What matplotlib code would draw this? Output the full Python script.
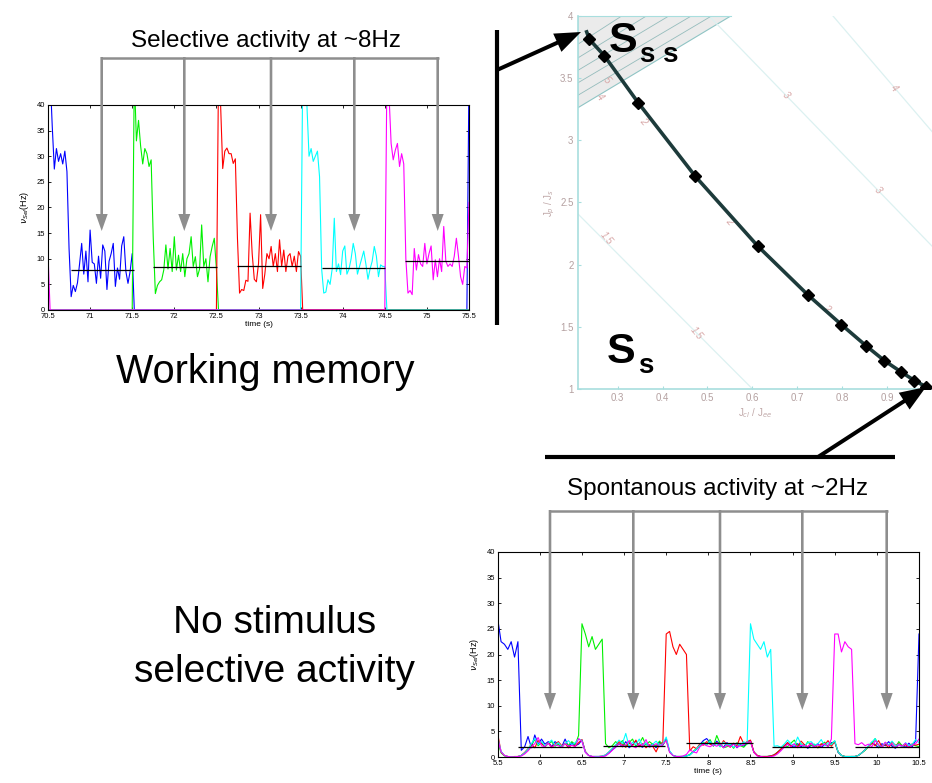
import numpy as np
import matplotlib.pyplot as plt
from matplotlib.patches import FancyArrow, Polygon

plt.rcParams['font.family'] = ['Liberation Sans', 'DejaVu Sans']

# ---------------- working memory traces (top left), one sample every 25 ms
wm_start = 70.5
wm_step = 0.025
wm_n = 201
wm_colors = ["#0000ff", "#00f000", "#ff0000", "#00ffff", "#ff00ff"]
wm_seg_start = [70.5, 71.5, 72.5, 73.5, 74.5]
wm_blue = [46, 46, 36, 27.5, 31.5, 29, 30.5, 28.5, 31, 27, 12, 2.6, 4.8, 3.6, 5.3, 9, 13, 7, 11.5, 5.5,
           15.6, 9.3, 9, 5.2, 10.5, 6.2, 12.7, 11.5, 4, 9.5, 11, 13, 4.6, 8.2, 6, 12.5, 14.3, 7.5, 5.2, 7.5, 11]
wm_green = [0, 46, 33, 37, 32, 28.5, 31.5, 30.5, 28, 29.3, 14, 3.2, 4.8, 5.5, 5.9, 7.8, 12.7, 8, 12, 7.5,
            14.3, 7.8, 10.7, 7.5, 11, 6.5, 10, 11, 14.3, 8.5, 10.4, 6.5, 8, 16.6, 8.5, 10, 5.5, 10.4, 12.4, 14, 8]
wm_red = [0, 46, 40, 27.6, 31, 31.6, 30.5, 30.5, 28.6, 29.5, 14, 3.3, 4, 3.8, 5.8, 5.6, 18.9, 11, 6, 5.5,
          9, 18.6, 4.2, 7, 11, 10, 12.4, 8.5, 11, 7.5, 13.7, 8.5, 11.7, 7.5, 10.5, 11, 8.5, 10.5, 7.5, 11.4, 10.5]
wm_cyan = [0, 46, 46, 40, 30, 31.5, 29, 30, 31, 26, 8, 3.3, 3.5, 5.9, 5, 8, 17.9, 7.5, 9, 6.9,
           11.5, 12.5, 7, 8, 10, 13, 11, 7, 8.5, 10, 11.5, 9, 6, 8, 9.5, 12.4, 10.5, 6.5, 8.8, 8.5, 8.5]
wm_magenta = [0, 46, 42, 32.5, 29.3, 31.2, 32.5, 28, 30.5, 28.5, 10, 3.3, 3.8, 3, 12, 7.8, 10.8, 9, 8.5, 13,
              9, 11, 12.5, 5.9, 9.8, 6.5, 10, 7.5, 16.3, 9.5, 8.5, 9, 8.5, 10.5, 14, 10.5, 6.5, 5, 8.5, 8.2, 21]
wm_magenta_first = 11.0   # magenta still decaying at 70.5 s
wm_blue_last = 46.0       # blue cue comes back at 75.5 s
wm_mean_from = [70.77, 71.75, 72.74, 73.75, 74.74]
wm_mean_to = [71.52, 72.51, 73.5, 74.5, 75.5]
wm_mean_val = [7.8, 8.3, 8.6, 8.2, 9.6]
wm_xticks = [70.5, 71, 71.5, 72, 72.5, 73, 73.5, 74, 74.5, 75, 75.5]
wm_xlabels = ["70.5", "71", "71.5", "72", "72.5", "73", "73.5", "74", "74.5", "75", "75.5"]

# ---------------- no stimulus traces (bottom right), one sample every 40 ms
ns_start = 5.5
ns_step = 0.04
ns_blue = [27, 22.5, 22, 21, 22.5, 19.5, 22.5, 1.3, 2, 4, 1.8, 4.3, 2.5, 3.5, 2.5, 3, 2, 3, 2.5, 2, 3.5, 2, 2.8, 2.2, 2.5,
           3.3, 1.0, 0.3, 0.1, 0.1, 0.1, 0.1, 0.3, 0.8, 1.4, 1.9, 2.6, 2.0, 3.0, 1.8, 2.4, 3.1, 2.2, 1.9, 2.7, 2.1, 2.5, 1.8, 2.9, 2.3,
           3.6, 1.1, 0.3, 0.1, 0.1, 0.1, 0.2, 0.4, 1.0, 1.5, 2.4, 3.2, 3.6, 2.8, 2.2, 3.1, 2.4, 1.9, 2.8, 2.3, 2.6, 1.8, 2.5, 2.1, 2.7,
           3.2, 1.0, 0.3, 0.1, 0.1, 0.1, 0.2, 0.4, 0.9, 1.5, 2.0, 2.8, 2.2, 1.9, 2.6, 2.0, 2.4, 1.7, 2.3, 2.0, 2.6, 1.9, 2.4, 2.2, 2.8,
           2.9, 0.9, 0.3, 0.1, 0.0, 0.1, 0.1, 0.3, 0.8, 1.4, 2.1, 2.9, 2.4, 1.8, 2.6, 2.2, 3.0, 2.1, 1.7, 2.5, 2.2, 1.9, 2.7, 2.0, 3.2,
           24]
ns_green = [3.0, 0.8, 0.2, 0.1, 0.0, 0.0, 0.1, 0.3, 0.8, 1.5, 2.4, 3.4, 2.2, 2.8, 2.0, 2.6, 3.0, 2.1, 2.5, 1.9, 2.7, 2.3, 3.0, 2.4, 4.2,
            26, 24, 21.5, 23.5, 21, 22, 23, 2.6, 1.8, 2.2, 3.0, 2.4, 3.2, 2.0, 2.8, 3.5, 2.1, 2.6, 3.8, 2.3, 3.0, 2.5, 2.2, 3.1, 2.4,
            3.3, 1.0, 0.3, 0.1, 0.1, 0.1, 0.2, 0.5, 1.1, 1.7, 2.2, 2.9, 2.3, 3.4, 2.1, 4.2, 2.6, 1.8, 2.0, 2.5, 1.7, 2.8, 2.2, 1.9, 2.6,
            3.0, 0.9, 0.3, 0.1, 0.1, 0.1, 0.2, 0.4, 0.9, 1.5, 2.3, 2.0, 2.7, 3.3, 2.1, 2.6, 1.9, 3.0, 2.2, 2.5, 1.8, 2.4, 2.9, 2.1, 2.6,
            3.1, 1.0, 0.3, 0.1, 0.1, 0.1, 0.1, 0.3, 0.8, 1.3, 2.0, 2.6, 3.6, 2.2, 1.9, 2.8, 2.3, 2.5, 1.8, 3.0, 2.2, 2.6, 1.9, 2.4, 2.2,
            2.0]
ns_red = [4.5, 1.0, 0.3, 0.1, 0.0, 0.1, 0.1, 0.3, 0.9, 1.6, 2.5, 1.8, 3.2, 2.6, 2.1, 2.8, 1.9, 2.5, 3.0, 2.2, 2.6, 1.8, 2.4, 2.1, 2.8,
          3.4, 1.1, 0.3, 0.1, 0.1, 0.1, 0.2, 0.4, 1.0, 1.6, 2.3, 3.0, 2.4, 1.9, 2.7, 2.2, 3.3, 2.0, 2.6, 1.8, 2.4, 2.1, 1.0, 2.5, 2.8,
          24, 24.5, 21.5, 20, 22, 21, 20, 1.2, 2.0, 1.6, 2.6, 2.3, 3.0, 2.5, 2.2, 2.8, 2.0, 3.2, 2.4, 1.9, 2.7, 2.2, 4.0, 2.6, 3.0,
          3.3, 1.0, 0.3, 0.1, 0.1, 0.1, 0.2, 0.4, 0.9, 1.5, 2.2, 2.8, 2.1, 2.5, 1.9, 3.1, 2.4, 2.0, 2.7, 2.2, 1.8, 2.6, 2.3, 3.2, 2.1,
          3.0, 1.0, 0.3, 0.1, 0.1, 0.1, 0.1, 0.3, 0.8, 1.4, 2.1, 2.7, 2.2, 3.2, 2.0, 2.5, 1.8, 2.9, 2.3, 2.6, 2.0, 2.4, 1.9, 2.6, 2.3,
          2.5]
ns_cyan = [3.8, 1.1, 0.3, 0.1, 0.0, 0.0, 0.1, 0.3, 0.8, 1.5, 2.6, 3.6, 2.4, 3.0, 2.2, 2.7, 3.3, 2.3, 2.8, 2.0, 2.6, 3.2, 2.4, 2.8, 3.5,
           3.2, 1.0, 0.3, 0.1, 0.1, 0.1, 0.2, 0.4, 1.0, 1.7, 2.4, 3.3, 2.6, 4.6, 2.0, 2.9, 2.4, 3.5, 2.2, 2.7, 1.9, 2.5, 3.1, 2.3, 2.6,
           3.9, 1.2, 0.3, 0.1, 0.1, 0.1, 0.2, 0.4, 1.0, 1.6, 2.3, 2.8, 2.4, 3.1, 2.2, 2.6, 2.0, 2.9, 2.3, 2.5, 1.9, 2.7, 2.2, 3.0, 2.5,
           26, 23, 22, 21, 22.5, 19.5, 21, 2.1, 2.2, 1.9, 2.5, 3.3, 2.6, 2.2, 3.9, 2.5, 2.1, 2.8, 3.0, 2.3, 2.6, 3.4, 2.2, 2.8, 2.4,
           3.2, 1.0, 0.3, 0.1, 0.1, 0.1, 0.1, 0.3, 0.8, 1.4, 2.2, 2.9, 3.6, 2.3, 2.0, 2.7, 2.4, 3.1, 2.2, 2.5, 1.9, 2.8, 2.2, 2.5, 3.4,
           2.8]
ns_magenta = [3.6, 1.0, 0.3, 0.1, 0.0, 0.0, 0.1, 0.2, 0.6, 1.2, 2.0, 2.6, 3.8, 2.2, 2.0, 2.7, 1.8, 2.4, 2.2, 1.9, 2.6, 2.1, 2.3, 2.0, 3.6,
              3.0, 0.9, 0.3, 0.1, 0.0, 0.0, 0.1, 0.2, 0.7, 1.3, 2.0, 2.6, 2.0, 2.4, 3.2, 2.1, 1.8, 2.6, 2.2, 3.4, 1.9, 2.2, 2.6, 2.0, 2.5,
              3.2, 0.9, 0.3, 0.1, 0.1, 0.2, 0.5, 1.4, 1.0, 0.8, 2.0, 2.5, 2.2, 2.0, 2.4, 2.1, 2.6, 1.8, 2.3, 2.0, 2.5, 1.9, 2.2, 2.4, 2.8,
              3.0, 0.9, 0.2, 0.1, 0.0, 0.0, 0.1, 0.2, 0.6, 1.2, 1.9, 2.5, 2.0, 2.6, 1.8, 2.3, 2.2, 2.0, 2.7, 1.9, 2.4, 2.1, 2.6, 2.0, 3.5,
              24, 24, 20.5, 22.5, 21.5, 21, 2.6, 2.4, 2.8, 2.2, 2.5, 2.0, 3.2, 2.4, 1.9, 2.9, 2.2, 2.6, 1.8, 2.4, 2.1, 2.7, 1.8, 2.3, 2.6,
              3.5]
ns_mean_from = [5.745, 6.745, 7.74, 8.75, 9.74]
ns_mean_to = [6.5, 7.49, 8.53, 9.48, 10.5]
ns_mean_val = [1.9, 2.1, 2.7, 1.9, 1.9]
ns_xticks = [5.5, 6, 6.5, 7, 7.5, 8, 8.5, 9, 9.5, 10, 10.5]
ns_xlabels = ["5.5", "6", "6.5", "7", "7.5", "8", "8.5", "9", "9.5", "10", "10.5"]

# ---------------- phase diagram (right)
pd_curve_x = [0.231, 0.237, 0.270, 0.346, 0.473, 0.612, 0.723, 0.798, 0.853, 0.894, 0.931, 0.961, 0.987, 1.0]
pd_curve_y = [3.87, 3.81, 3.68, 3.30, 2.71, 2.15, 1.76, 1.52, 1.35, 1.23, 1.14, 1.07, 1.02, 1.0]
pd_region_x = [0.211, 0.553, 0.211]
pd_region_y = [4.0, 4.0, 3.26]
pd_hatch_left_y = [3.36, 3.46, 3.56, 3.66, 3.77]
pd_hatch_top_x = [0.51, 0.465, 0.415, 0.365, 0.31]
pd_contour_x = [[0.211, 0.601], [0.503, 1.0], [0.779, 1.0]]
pd_contour_y = [[2.41, 1.0], [4.0, 2.15], [4.0, 3.07]]
pd_label_x = [0.275, 0.475, 0.357, 0.549, 0.764, 0.675, 0.879, 0.916, 0.275, 0.261]
pd_label_y = [2.21, 1.45, 3.15, 2.35, 1.65, 3.36, 2.60, 3.42, 3.48, 3.35]
pd_label_txt = ["1.5", "1.5", "2", "2", "2", "3", "3", "4", "5", "4"]


def build_wm():
    series = []
    for k, seg in enumerate([wm_blue, wm_green, wm_red, wm_cyan, wm_magenta]):
        vals = np.zeros(wm_n)
        i0 = int(round((wm_seg_start[k] - wm_start) / wm_step))
        vals[i0:i0 + len(seg)] = seg
        series.append(vals)
    series[4][0] = wm_magenta_first
    series[0][-1] = wm_blue_last
    return series


def style_trace_axes(ax, xlim, xticks, xlabels):
    ax.set_xlim(*xlim)
    ax.set_ylim(0, 40)
    ax.set_xticks(xticks)
    ax.set_xticklabels(xlabels)
    ax.set_yticks(range(0, 41, 5))
    ax.tick_params(direction='in', top=True, right=True, length=2.5, width=0.6,
                   labelsize=5.5, pad=2)
    for s in ax.spines.values():
        s.set_linewidth(0.8)
    ax.set_xlabel("time (s)", fontsize=6, labelpad=1)
    ax.set_ylabel(r"$\nu_{Sel}$(Hz)", fontsize=6.5, labelpad=4)


W, H = 932, 783
fig = plt.figure(figsize=(W / 100, H / 100), dpi=100)


def px_axes(x0, y0, x1, y1):
    return fig.add_axes([x0 / W, 1 - y1 / H, (x1 - x0) / W, (y1 - y0) / H])


# top left: working memory
ax1 = px_axes(48, 105, 469, 310)
wm_time = wm_start + wm_step * np.arange(wm_n)
for vals, c in zip(build_wm(), wm_colors):
    ax1.plot(wm_time, vals, color=c, lw=0.8)
ax1.hlines(wm_mean_val, wm_mean_from, wm_mean_to, colors='black', lw=0.9, zorder=5)
style_trace_axes(ax1, (70.5, 75.5), wm_xticks, wm_xlabels)

# bottom right: no stimulus
ax2 = px_axes(497.7, 552, 919, 757)
ns_time = ns_start + ns_step * np.arange(len(ns_blue))
for vals, c in zip([ns_blue, ns_green, ns_red, ns_cyan, ns_magenta], wm_colors):
    ax2.plot(ns_time, vals, color=c, lw=0.8)
ax2.hlines(ns_mean_val, ns_mean_from, ns_mean_to, colors='black', lw=0.9, zorder=5)
style_trace_axes(ax2, (5.5, 10.5), ns_xticks, ns_xlabels)

# right: phase diagram
ax3 = px_axes(577.7, 15.7, 932, 389.3)
ax3.set_xlim(0.211, 1.0)
ax3.set_ylim(1, 4)
faint = '#a8dede'
for cx, cy in zip(pd_contour_x, pd_contour_y):
    ax3.plot(cx, cy, color='#dcf1f1', lw=0.9)
ax3.add_patch(Polygon(list(zip(pd_region_x, pd_region_y)), closed=True,
                      facecolor='#ebebeb', edgecolor='#8fc4c4', lw=0.8))
for yl, xt in zip(pd_hatch_left_y, pd_hatch_top_x):
    ax3.plot([0.211, xt], [yl, 4.0], color='#95bcbc', lw=0.6)
for lx, ly, lt in zip(pd_label_x, pd_label_y, pd_label_txt):
    ax3.text(lx, ly, lt, fontsize=7, color='#d8a8a8', style='italic',
             rotation=-50, ha='center', va='center')
ax3.plot(pd_curve_x, pd_curve_y, color='#1d3b3b', lw=2.6, zorder=4)
ax3.plot(pd_curve_x[1:-1], pd_curve_y[1:-1], 'D', color='black', ms=6.5, zorder=5)
ax3.set_xticks([0.3, 0.4, 0.5, 0.6, 0.7, 0.8, 0.9])
ax3.set_yticks([1, 1.5, 2, 2.5, 3, 3.5, 4])
ax3.set_yticklabels(["1", "1.5", "2", "2.5", "3", "3.5", "4"])
ax3.tick_params(direction='in', length=2, color=faint, labelsize=7,
                labelcolor='#b4a0a0', pad=3)
ax3.spines['right'].set_visible(False)
for side in ['left', 'bottom']:
    ax3.spines[side].set_color(faint)
    ax3.spines[side].set_linewidth(1.2)
ax3.spines['top'].set_bounds(0.211, 0.553)
ax3.spines['top'].set_color(faint)
ax3.set_xlabel(r"J$_{cl}$ / J$_{ee}$", fontsize=7, color='#c0a8a8', labelpad=2)
ax3.set_ylabel(r"J$_{p}$ / J$_{s}$", fontsize=7, color='#c0a8a8', labelpad=2)

# overlay in pixel units for the annotations
ov = fig.add_axes([0, 0, 1, 1])
ov.set_xlim(0, W)
ov.set_ylim(H, 0)
ov.axis('off')

gray = '#8e8e8e'
ov.plot([100.5, 438.5], [58, 58], color=gray, lw=1.8, solid_capstyle='butt')
for x in [101.7, 184.3, 271, 354.3, 437.7]:
    ov.add_patch(FancyArrow(x, 57, 0, 174, width=2.6, head_width=12, head_length=17,
                            length_includes_head=True, color=gray, lw=0))
ov.plot([549, 887.7], [511, 511], color=gray, lw=1.8, solid_capstyle='butt')
for x in [550, 633.3, 720, 802.3, 886.7]:
    ov.add_patch(FancyArrow(x, 510, 0, 200, width=2.6, head_width=12, head_length=17,
                            length_includes_head=True, color=gray, lw=0))

ov.plot([497, 497], [30, 325], color='black', lw=3, solid_capstyle='butt')
ov.add_patch(FancyArrow(497, 70, 84, -38, width=4, head_width=20, head_length=26,
                        length_includes_head=True, color='black', lw=0))
ov.plot([545, 895], [457, 457], color='black', lw=3, solid_capstyle='butt')
ov.add_patch(FancyArrow(818, 457, 108, -70, width=4, head_width=20, head_length=26,
                        length_includes_head=True, color='black', lw=0))

ov.text(266, 47, "Selective activity at ~8Hz", fontsize=17.5, ha='center', va='baseline')
ov.text(718, 495, "Spontanous activity at ~2Hz", fontsize=17.5, ha='center', va='baseline')
ov.text(265, 383, "Working memory", fontsize=28.5, ha='center', va='baseline')
ov.text(275, 633, "No stimulus", fontsize=28, ha='center', va='baseline')
ov.text(275, 682, "selective activity", fontsize=28, ha='center', va='baseline')
ov.text(609, 51.5, "S", fontsize=31, fontweight='bold', ha='left', va='baseline')
ov.text(640, 61.5, "s s", fontsize=20, fontweight='bold', ha='left', va='baseline')
ov.text(607, 363, "S", fontsize=31, fontweight='bold', ha='left', va='baseline')
ov.text(638, 373, "s", fontsize=20, fontweight='bold', ha='left', va='baseline')

fig.savefig("out.png", dpi=100)
